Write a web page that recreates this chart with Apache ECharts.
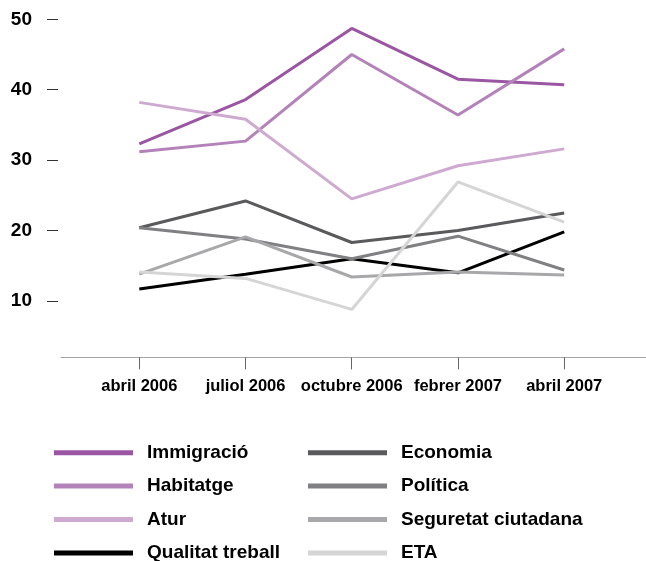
<!DOCTYPE html>
<html>
<head>
<meta charset="utf-8">
<script src="https://cdn.jsdelivr.net/npm/echarts@6/dist/echarts.min.js"></script>
<style>
  html, body { margin: 0; padding: 0; background: #fff; }
  #chart { width: 646px; height: 561px; }
</style>
</head>
<body>
<div id="chart"></div>
<script>
// survey waves
const periods = ['abril 2006', 'juliol 2006', 'octubre 2006', 'febrer 2007', 'abril 2007']

// % of mentions per problem
const immigracio = [32.3, 38.6, 48.7, 41.5, 40.7]
const habitatge = [31.2, 32.7, 45.0, 36.4, 45.8]
const atur = [38.2, 35.8, 24.5, 29.2, 31.6]
const qualitatTreball = [11.7, 13.8, 16.0, 14.0, 19.8]
const economia = [20.4, 24.2, 18.3, 20.0, 22.5]
const politica = [20.4, 18.8, 16.0, 19.2, 14.4]
const seguretat = [13.8, 19.1, 13.4, 14.1, 13.7]
const eta = [14.1, 13.2, 8.8, 26.9, 21.2]

const yTicks = [10, 20, 30, 40, 50]

const font = '"Liberation Sans", Arial, sans-serif'

const seriesDefs = [
  { name: 'Immigració', data: immigracio, color: '#9a56a2' },
  { name: 'Habitatge', data: habitatge, color: '#b382b8' },
  { name: 'Atur', data: atur, color: '#cfaad0' },
  { name: 'Qualitat treball', data: qualitatTreball, color: '#000000' },
  { name: 'Economia', data: economia, color: '#5a5a5c' },
  { name: 'Política', data: politica, color: '#808083' },
  { name: 'Seguretat ciutadana', data: seguretat, color: '#a8a8aa' },
  { name: 'ETA', data: eta, color: '#d5d5d5' },
]

const xIdx = periods.map((_, i) => i)

const chart = echarts.init(document.getElementById('chart'))

const legendBase = {
  orient: 'vertical',
  top: 442.7,
  height: 130,
  padding: 0,
  icon: 'rect',
  itemWidth: 79,
  itemHeight: 5,
  itemGap: 13.4,
  selectedMode: false,
  textStyle: {
    fontFamily: font, fontSize: 19, fontWeight: 'bold', color: '#000',
    lineHeight: 20, padding: [0, 0, 0, 9],
  },
}

chart.setOption({
  animation: false,
  grid: { left: 61, right: 0, top: 19.3, bottom: 203.7 },
  legend: [
    Object.assign({}, legendBase, { left: 54, data: seriesDefs.slice(0, 4).map((s) => s.name) }),
    Object.assign({}, legendBase, { left: 308, data: seriesDefs.slice(4).map((s) => s.name) }),
  ],
  xAxis: {
    type: 'value',
    min: -0.737,
    max: 4.77,
    splitLine: { show: false },
    axisLine: { show: true, onZero: false, lineStyle: { color: '#a3a3a3', width: 1 } },
    axisTick: { show: true, length: 12, customValues: xIdx, lineStyle: { color: '#666', width: 1 } },
    axisLabel: {
      customValues: xIdx,
      margin: 21,
      formatter: (v) => periods[Math.round(v)] ?? '',
      fontFamily: font, fontSize: 16.5, fontWeight: 'bold', color: '#000',
    },
  },
  yAxis: {
    type: 'value',
    min: 2,
    max: 50,
    offset: 3,
    splitLine: { show: false },
    axisLine: { show: false, onZero: false },
    axisTick: { show: true, length: 11, customValues: yTicks, lineStyle: { color: '#333', width: 1 } },
    axisLabel: {
      customValues: yTicks,
      margin: 26,
      fontFamily: font, fontSize: 19, fontWeight: 'bold', color: '#000',
    },
  },
  series: seriesDefs.map((s) => ({
    name: s.name,
    type: 'line',
    symbol: 'none',
    color: s.color,
    lineStyle: { width: 3, color: s.color },
    data: s.data.map((v, i) => [i, v]),
  })),
})
</script>
</body>
</html>
